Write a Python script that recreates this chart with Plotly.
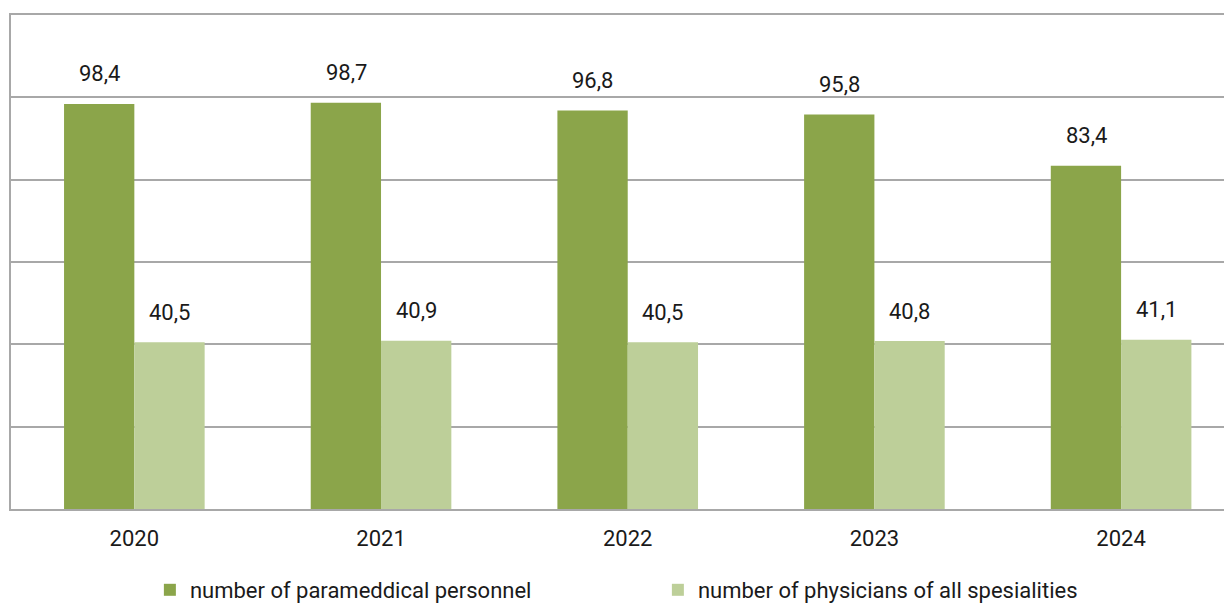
import plotly.graph_objects as go

years = ["2020", "2021", "2022", "2023", "2024"]
paramedical = [98.4, 98.7, 96.8, 95.8, 83.4]
physicians = [40.5, 40.9, 40.5, 40.8, 41.1]

DARK = "#8ba54a"
LIGHT = "#bdcf99"
GRID = "#a8a8a8"
FONT = "Roboto"

fig = go.Figure()
fig.add_trace(go.Bar(x=years, y=paramedical, name="number of parameddical personnel",
                     marker=dict(color=DARK, line=dict(width=0))))
fig.add_trace(go.Bar(x=years, y=physicians, name="number of physicians of all spesialities",
                     marker=dict(color=LIGHT, line=dict(width=0))))

# value labels, a bit higher than plotly's "outside" text
for vals, shift in [(paramedical, -35), (physicians, 35)]:
    for i, v in enumerate(vals):
        fig.add_annotation(x=i, y=v, text=f"{v:.1f}".replace(".", ","),
                           showarrow=False, xshift=shift, yshift=30,
                           yanchor="middle", font=dict(family=FONT, size=22, color="#1a1a1a"))

# note: page body has ~8px margin, so margins are a bit smaller than the target offsets
fig.update_layout(
    width=1232, height=603,
    margin=dict(l=3, r=0, t=7, b=96),
    plot_bgcolor="white", paper_bgcolor="white",
    barmode="group", bargap=0.43, bargroupgap=0,
    font=dict(family=FONT, size=22, color="#1a1a1a"),
    showlegend=True,
    legend=dict(orientation="h", x=0.113, xanchor="left", y=-0.165, yanchor="middle",
                font=dict(size=22), entrywidth=463),
)
fig.update_xaxes(type="category", range=[-0.5, 4.482], showline=True, mirror=True,
                 linecolor=GRID, linewidth=2, ticks="", ticklabelstandoff=9, showgrid=False)
fig.update_yaxes(range=[0, 120], dtick=20, showgrid=True, gridcolor=GRID, gridwidth=2,
                 showticklabels=False, showline=True, linecolor=GRID, linewidth=2,
                 zeroline=False, ticks="")

fig.write_html("out.html")
